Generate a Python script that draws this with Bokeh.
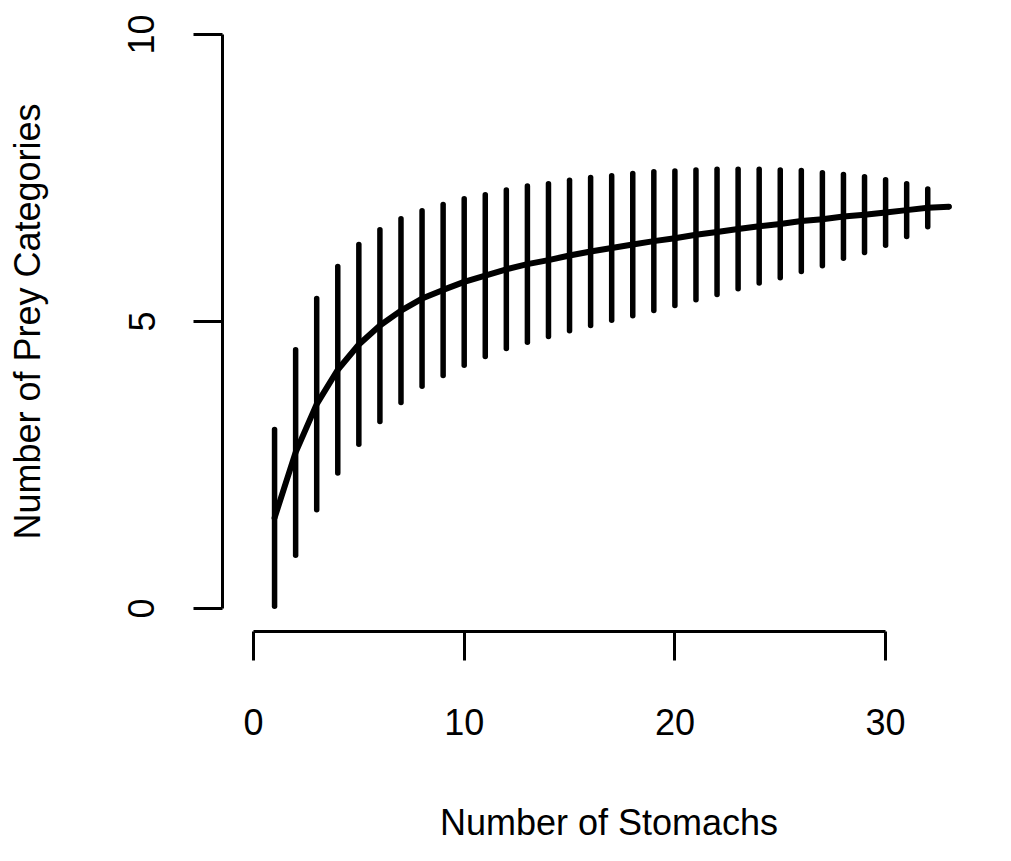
import numpy as np
from bokeh.plotting import figure
from bokeh.models import Range1d, FixedTicker, ColumnDataSource
from bokeh.embed import file_html
from bokeh.resources import INLINE

# ---- data ----
stomachs = list(range(1, 34))
mean_prey = [1.58, 2.72, 3.56, 4.16, 4.60, 4.93, 5.19, 5.40, 5.55, 5.69,
             5.80, 5.91, 6.00, 6.07, 6.15, 6.22, 6.28, 6.34, 6.40, 6.45,
             6.51, 6.56, 6.61, 6.66, 6.70, 6.75, 6.78, 6.83, 6.86, 6.90,
             6.94, 6.98, 7.00]
sd_prey = [1.54, 1.79, 1.84, 1.80, 1.74, 1.67, 1.60, 1.53, 1.49, 1.45,
           1.41, 1.38, 1.36, 1.33, 1.31, 1.29, 1.26, 1.24, 1.21, 1.17,
           1.13, 1.09, 1.04, 0.99, 0.94, 0.88, 0.81, 0.73, 0.66, 0.57,
           0.46, 0.33, 0.0]
x_ticks = [0, 10, 20, 30]
y_ticks = [0, 5, 10]
x_title = "Number of Stomachs"
y_title = "Number of Prey Categories"

FONT = "Liberation Sans"
FS = "36px"

m = np.array(mean_prey)
s = np.array(sd_prey)
src = ColumnDataSource(dict(x=stomachs, mean=m, lo=m - s, hi=m + s))

p = figure(width=995, height=845, output_backend="svg", toolbar_location=None,
           x_range=Range1d(-1.471, 35.216), y_range=Range1d(-0.4, 10.4),
           min_border_left=222, min_border_right=0, min_border_top=11,
           min_border_bottom=214)
p.outline_line_color = None
p.grid.visible = False
p.background_fill_color = "white"
p.border_fill_color = "white"

p.segment(x0="x", y0="lo", x1="x", y1="hi", source=src,
          line_color="black", line_width=5.5, line_cap="round")
p.line(x="x", y="mean", source=src, line_color="black", line_width=6,
       line_join="round", line_cap="round")

for ax, ticks, bounds in ((p.xaxis[0], x_ticks, (0, 30)),
                          (p.yaxis[0], y_ticks, (0, 10))):
    ax.ticker = FixedTicker(ticks=ticks)
    ax.bounds = bounds
    ax.axis_line_width = 3
    ax.axis_line_color = "black"
    ax.major_tick_line_width = 3
    ax.major_tick_line_color = "black"
    ax.major_tick_out = 29
    ax.major_tick_in = 0
    ax.minor_tick_line_color = None
    ax.major_label_text_font = FONT
    ax.major_label_text_font_size = FS
    ax.major_label_text_color = "black"
    ax.axis_label_text_font = FONT
    ax.axis_label_text_font_size = FS
    ax.axis_label_text_font_style = "normal"
    ax.axis_label_text_color = "black"

p.xaxis[0].axis_label = x_title
p.xaxis[0].major_label_standoff = 48
p.xaxis[0].axis_label_standoff = 64

p.yaxis[0].axis_label = y_title
p.yaxis[0].major_label_orientation = "vertical"
p.yaxis[0].major_label_standoff = 39
p.yaxis[0].axis_label_standoff = 78

open("out.html", "w").write(file_html(p, INLINE))
